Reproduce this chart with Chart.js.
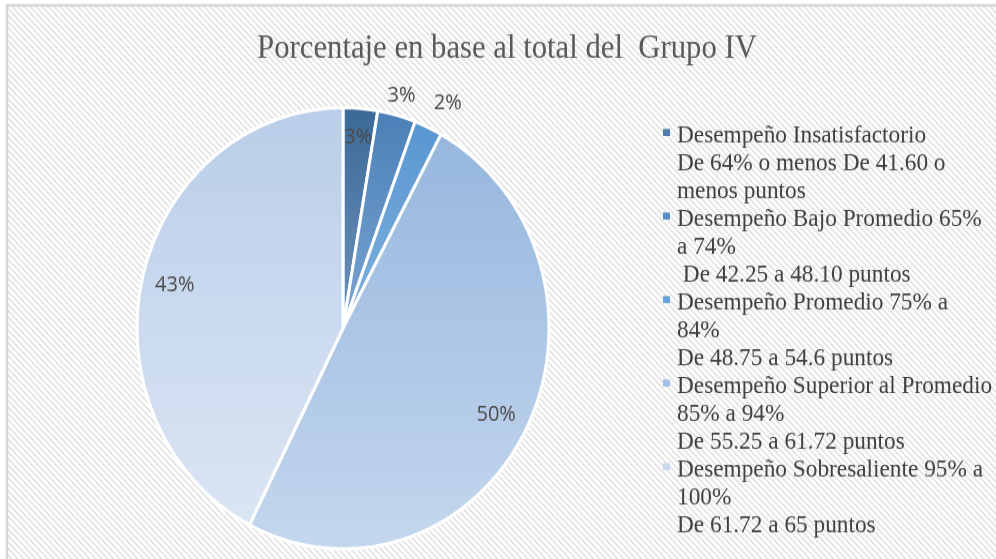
<!DOCTYPE html>
<html>
<head>
<meta charset="utf-8">
<script src="https://cdn.jsdelivr.net/npm/chart.js@4.4.1/dist/chart.umd.min.js"></script>
<style>
  html { overflow: hidden; }
  body { margin: 0; padding: 0; background: #fff; width: 996px; height: 559px; }
  /* the source picture is a little stretched vertically, so the whole chart is too */
  #wrap { width: 996px; height: 522px; transform: scale(1, 1.0709); transform-origin: 0 0; }
</style>
</head>
<body>
<div id="wrap"><canvas id="chart" width="996" height="522"></canvas></div>
<script>
// ── data ───────────────────────────────────────────────
const chartTitle = 'Porcentaje en base al total del  Grupo IV';

const categories = [
    'Desempeño Insatisfactorio',
    'Desempeño Bajo Promedio',
    'Desempeño Promedio',
    'Desempeño Superior al Promedio',
    'Desempeño Sobresaliente'
];

// legend text as it wraps in the original
const legendLines = [
    ['Desempeño Insatisfactorio', 'De 64% o menos De 41.60 o', 'menos puntos'],
    ['Desempeño Bajo Promedio 65%', 'a 74%', ' De 42.25 a 48.10 puntos'],
    ['Desempeño Promedio 75% a', '84%', 'De 48.75 a 54.6 puntos'],
    ['Desempeño Superior al Promedio', '85% a 94%', 'De 55.25 a 61.72 puntos'],
    ['Desempeño Sobresaliente 95% a', '100%', 'De 61.72 a 65 puntos']
];

const values = [2.7, 3.0, 2.2, 49.6, 42.5];
const percentLabels = values.map(v => Math.round(v) + '%');

// ── styles ─────────────────────────────────────────────
const sliceTop = ['#3b6997', '#4a80b8', '#5695d0', '#94b5dd', '#bacee9'];
const sliceBottom = ['#a2bfe2', '#adc9ea', '#abcbee', '#c4d7ee', '#dde7f5'];
const markerColors = ['#4f7aab', '#5b8fc6', '#69a3dc', '#a2bfe3', '#c8d8ee'];
const labelRadius = [0.87, 1.09, 1.14, 0.84, 0.84];
const labelTurn = [0, 0, 0.035, 0, 0];   // small angular nudge for crowded labels
const PIE_R = 206;

function sliceGradient(context) {
    const chart = context.chart;
    const area = chart.chartArea;
    const i = context.dataIndex;
    if (!area) return sliceTop[i];
    const cy = (area.top + area.bottom) / 2;
    const g = chart.ctx.createLinearGradient(0, cy - PIE_R, 0, cy + PIE_R);
    g.addColorStop(0, sliceTop[i]);
    g.addColorStop(1, sliceBottom[i]);
    return g;
}

let hatch = null;
function getHatch(ctx) {
    if (hatch) return hatch;
    const c = document.createElement('canvas');
    c.width = 6;
    c.height = 6;
    const g = c.getContext('2d');
    g.fillStyle = '#ffffff';
    g.fillRect(0, 0, 6, 6);
    g.strokeStyle = '#e3e3e3';
    g.lineWidth = 1.6;
    g.beginPath();
    g.moveTo(-1, -1); g.lineTo(7, 7);
    g.moveTo(-1, 5); g.lineTo(1, 7);
    g.moveTo(5, -1); g.lineTo(7, 1);
    g.stroke();
    hatch = ctx.createPattern(c, 'repeat');
    return hatch;
}

// ── plugins ────────────────────────────────────────────
const backgroundPlugin = {
    id: 'background',
    beforeDraw(chart) {
        const { ctx, width, height } = chart;
        ctx.save();
        ctx.fillStyle = '#ffffff';
        ctx.fillRect(0, 0, width, height);
        ctx.fillStyle = getHatch(ctx);
        ctx.fillRect(8, 6, width, height);
        ctx.strokeStyle = '#d6d6d6';
        ctx.lineWidth = 2.5;
        ctx.strokeRect(7, 5, width + 10, height + 10);
        ctx.restore();
    }
};

const titleLegendPlugin = {
    id: 'titleLegend',
    afterDraw(chart) {
        const { ctx } = chart;
        ctx.save();

        // title
        ctx.fillStyle = '#595959';
        ctx.font = '32.5px "Liberation Serif"';
        ctx.textAlign = 'center';
        ctx.textBaseline = 'alphabetic';
        ctx.save();
        ctx.translate(507, 54.4);
        ctx.scale(0.945, 1);
        ctx.fillText(chartTitle, 0, 0);
        ctx.restore();

        // legend
        ctx.font = '23.3px "Liberation Serif"';
        ctx.textAlign = 'left';
        let y = 132.6;
        legendLines.forEach((lines, i) => {
            ctx.fillStyle = markerColors[i];
            ctx.fillRect(663, y - 12.2, 7, 6.6);
            ctx.fillStyle = '#404040';
            lines.forEach(line => {
                ctx.fillText(line, 677, y);
                y += 26.0;
            });
        });
        ctx.restore();
    }
};

const sliceLabelPlugin = {
    id: 'sliceLabels',
    afterDatasetsDraw(chart) {
        const { ctx } = chart;
        const meta = chart.getDatasetMeta(0);
        ctx.save();
        ctx.font = '20px "Open Sans"';
        ctx.fillStyle = '#4a4a4a';
        ctx.textAlign = 'center';
        ctx.textBaseline = 'middle';
        meta.data.forEach((arc, i) => {
            const p = arc.getProps(['x', 'y', 'startAngle', 'endAngle', 'outerRadius'], true);
            const mid = (p.startAngle + p.endAngle) / 2 + labelTurn[i];
            const r = p.outerRadius * labelRadius[i];
            ctx.fillText(percentLabels[i], p.x + Math.cos(mid) * r, p.y + Math.sin(mid) * r);
        });
        ctx.restore();
    }
};

// ── chart ──────────────────────────────────────────────
new Chart(document.getElementById('chart'), {
    type: 'pie',
    data: {
        labels: categories,
        datasets: [{
            data: values,
            backgroundColor: sliceGradient,
            borderColor: '#ffffff',
            borderWidth: 3,
            radius: PIE_R
        }]
    },
    options: {
        responsive: false,
        animation: false,
        events: [],
        radius: PIE_R,
        layout: { padding: { left: 120, right: 430, top: 100, bottom: 9 } },
        plugins: {
            legend: { display: false },
            title: { display: false },
            tooltip: { enabled: false }
        }
    },
    plugins: [backgroundPlugin, sliceLabelPlugin, titleLegendPlugin]
});
</script>
</body>
</html>
